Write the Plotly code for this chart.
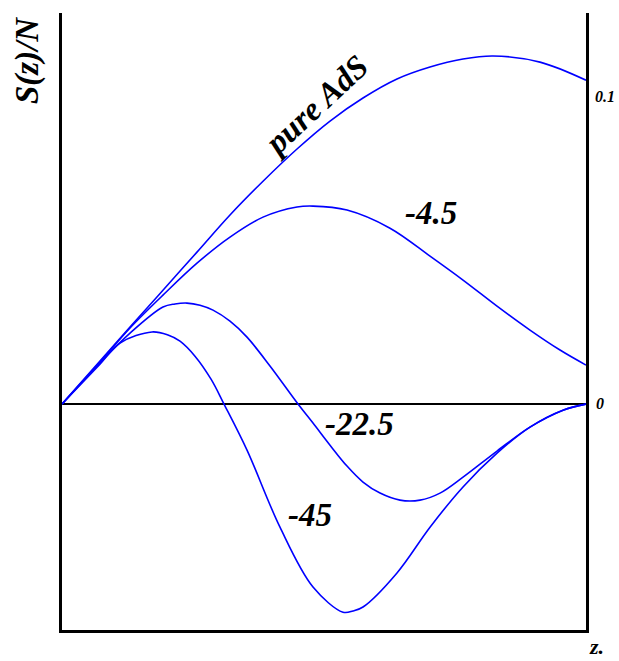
import plotly.graph_objects as go

# z (fraction of the plotted interval) and S(z)/N values
z_ads = [0.0, 0.0725, 0.1298, 0.1927, 0.2576, 0.3206, 0.3836, 0.4485, 0.5115, 0.5744,
         0.6393, 0.7023, 0.7653, 0.8225, 0.9122, 1.0]
s_ads = [0.0, 0.0140, 0.0251, 0.0371, 0.0495, 0.0616, 0.0726, 0.0831, 0.0922, 0.0997,
         0.1059, 0.1098, 0.1124, 0.1134, 0.1114, 0.1055]

z_45 = [0.0, 0.0725, 0.1298, 0.1927, 0.2576, 0.3206, 0.3836, 0.4485, 0.4790, 0.5439,
        0.6260, 0.7023, 0.7653, 0.8302, 0.8931, 0.9504, 1.0]
s_45 = [0.0, 0.0137, 0.0248, 0.0355, 0.0459, 0.0544, 0.0609, 0.0642, 0.0645, 0.0632,
        0.0573, 0.0482, 0.0404, 0.0319, 0.0241, 0.0176, 0.0127]

z_225 = [0.0, 0.0725, 0.1298, 0.1927, 0.2156, 0.2385, 0.2634, 0.2882, 0.3206, 0.3531,
         0.3969, 0.4504, 0.4790, 0.5115, 0.5439, 0.5744, 0.6069, 0.6450, 0.6832, 0.7214,
         0.7653, 0.8302, 0.8931, 0.9561, 1.0]
s_225 = [0.0, 0.0134, 0.0231, 0.0316, 0.0326, 0.0329, 0.0322, 0.0306, 0.0270, 0.0218,
         0.0124, 0.0, -0.0062, -0.0134, -0.0202, -0.0254, -0.0290, -0.0313, -0.0313, -0.0290,
         -0.0238, -0.0153, -0.0075, -0.0020, 0.0]

z_450 = [0.0, 0.0725, 0.1107, 0.1718, 0.2023, 0.2252, 0.2538, 0.2844, 0.3092, 0.3531,
         0.4160, 0.4790, 0.5363, 0.5553, 0.5744, 0.6393, 0.7023, 0.7653, 0.8302, 0.8931,
         0.9561, 1.0]
s_450 = [0.0, 0.0130, 0.0199, 0.0235, 0.0225, 0.0205, 0.0156, 0.0081, 0.0, -0.0150,
         -0.0401, -0.0596, -0.0678, -0.0674, -0.0661, -0.0550, -0.0401, -0.0270, -0.0160,
         -0.0075, -0.0020, 0.0]

series = [
    ("pure AdS", z_ads, s_ads),
    ("-4.5", z_45, s_45),
    ("-22.5", z_225, s_225),
    ("-45", z_450, s_450),
]

FONT = "Liberation Serif"

fig = go.Figure()
for name, zs, ss in series:
    fig.add_trace(go.Scatter(
        x=zs, y=ss, mode="lines", name=name,
        line=dict(color="#0000ff", width=1.6, shape="spline", smoothing=1.0),
        showlegend=False,
    ))


def label(txt, x, y, size, angle=0):
    fig.add_annotation(x=x, y=y, xref="paper", yref="paper",
                       xanchor="center", yanchor="middle",
                       text="<b><i>" + txt + "</i></b>", showarrow=False,
                       textangle=angle, font=dict(family=FONT, size=size, color="black"))


# curve labels
label("pure AdS", 0.4847, 0.8509, 33, -43)
label("-4.5", 0.7042, 0.6759, 33)
label("-22.5", 0.5668, 0.3339, 33)
label("-45", 0.4733, 0.1864, 33)

# axis titles and the two tick labels
label("S(z)/N", -0.0668, 0.9238, 33, -90)
label("z.", 1.0191, -0.0275, 22)
label("0.1", 1.0363, 0.8639, 16)
label("0", 1.0267, 0.3663, 16)

fig.update_layout(
    width=619, height=661,
    margin=dict(l=62, r=33, t=13, b=31),
    plot_bgcolor="white", paper_bgcolor="white",
    xaxis=dict(range=[0, 1], showgrid=False, zeroline=False, showticklabels=False,
               showline=True, linecolor="black", linewidth=2.5, ticks=""),
    yaxis=dict(range=[-0.0736, 0.1274], showgrid=False, showticklabels=False,
               zeroline=True, zerolinecolor="black", zerolinewidth=1.5,
               showline=True, mirror=True, linecolor="black", linewidth=2.5, ticks=""),
)

# drop the browser's default body margin so the figure fills the window exactly
fig.write_html("out.html", config={"displayModeBar": False},
               post_script="document.body.style.margin='0';")
